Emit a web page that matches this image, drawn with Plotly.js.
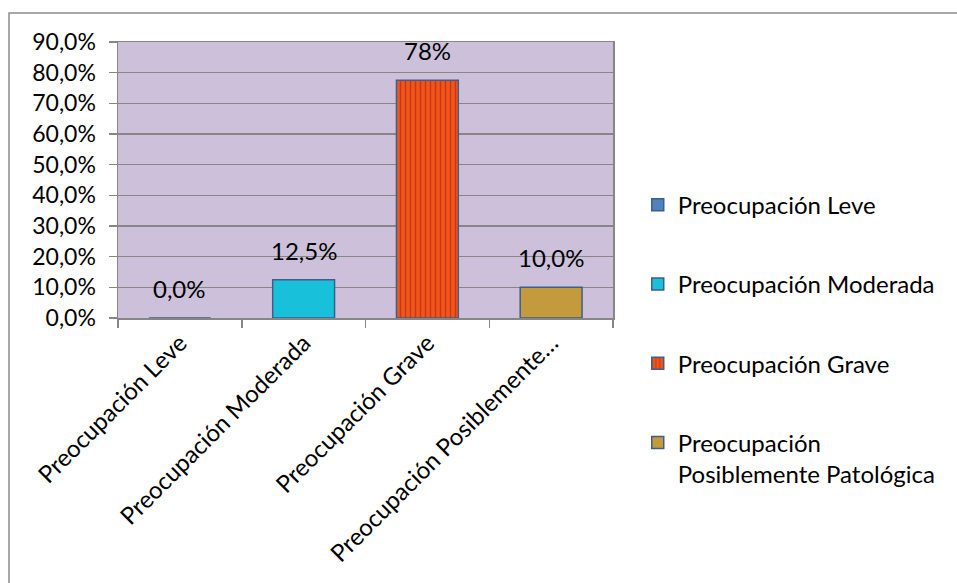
<!DOCTYPE html>
<html>
<head>
<meta charset="utf-8">
<script src="https://cdn.plot.ly/plotly-3.0.1.min.js"></script>
<style>html,body{margin:0;padding:0;background:#fff;}#chart{width:957px;height:583px;}</style>
</head>
<body>
<div id="chart"></div>
<script>
const categories = ["Preocupación Leve", "Preocupación Moderada", "Preocupación Grave", "Preocupación Posiblemente…"];
const legendNames = ["Preocupación Leve", "Preocupación Moderada", "Preocupación Grave", "Preocupación<br>Posiblemente Patológica"];
const values = [0.0, 12.5, 77.5, 10.0];
const valueLabels = ["0,0%", "12,5%", "78%", "10,0%"];
const yTicks = [0, 10, 20, 30, 40, 50, 60, 70, 80, 90];
const yTickLabels = ["0,0%", "10,0%", "20,0%", "30,0%", "40,0%", "50,0%", "60,0%", "70,0%", "80,0%", "90,0%"];

const fillColors = ["#4f81bd", "#18c0da", "#e8481c", "#c39a3c"];
const FONT = "Lato, 'Open Sans', sans-serif";

const traces = categories.map((c, i) => {
  const t = {
    type: "bar",
    x: [c],
    y: [values[i]],
    name: legendNames[i],
    legendgroup: "g" + i,
    width: 0.5,
    marker: {
      color: fillColors[i],
      line: { color: "#3d5f8c", width: 1.5 }
    },
    hoverinfo: "none"
  };
  if (i === 2) {
    t.marker.pattern = { shape: "|", fgcolor: "#a8180a", bgcolor: "#f0561c", size: 5, solidity: 0.3, fillmode: "overlay" };
  }
  return t;
});

const annotations = categories.map((c, i) => ({
  x: c, y: values[i], xref: "x", yref: "y",
  text: valueLabels[i], showarrow: false,
  yanchor: "bottom", yshift: 13,
  font: { family: FONT, size: 24, color: "#000" }
}));

const layout = {
  width: 957, height: 583,
  margin: { l: 118, r: 344, t: 42, b: 265 },
  paper_bgcolor: "#ffffff",
  plot_bgcolor: "#ccc0da",
  barmode: "overlay",
  showlegend: true,
  font: { family: FONT, size: 24, color: "#000" },
  xaxis: {
    type: "category",
    categoryorder: "array",
    categoryarray: categories,
    tickson: "boundaries",
    ticks: "outside", ticklen: 8, tickcolor: "#868686", tickwidth: 1.5,
    tickangle: -45,
    showline: true, linecolor: "#868686", linewidth: 1.5, mirror: true,
    showgrid: false,
    tickfont: { family: FONT, size: 24, color: "#000" }
  },
  yaxis: {
    range: [0, 90],
    tickmode: "array",
    tickvals: yTicks,
    ticktext: yTickLabels,
    ticks: "outside", ticklen: 8, tickcolor: "#868686", tickwidth: 1.5,
    ticklabelstandoff: 8,
    showline: true, linecolor: "#868686", linewidth: 1.5, mirror: true,
    showgrid: true, gridcolor: "#868686", gridwidth: 1.5,
    zeroline: false,
    tickfont: { family: FONT, size: 23, color: "#000" }
  },
  legend: {
    x: 1.05, xanchor: "left",
    y: 0.49, yanchor: "top",
    traceorder: "grouped",
    tracegroupgap: 45,
    valign: "top",
    maxheight: 420,
    bgcolor: "rgba(0,0,0,0)",
    font: { family: FONT, size: 24, color: "#000" }
  },
  annotations: annotations,
  shapes: [{
    type: "rect", xref: "paper", yref: "paper",
    x0: -0.2202, x1: 1.72, y0: -1.0, y1: 1.105,
    line: { color: "#8c8c8c", width: 1.5 }, fillcolor: "rgba(0,0,0,0)",
    layer: "below"
  }]
};

Plotly.newPlot("chart", traces, layout, { displayModeBar: false, staticPlot: true });
</script>
</body>
</html>
